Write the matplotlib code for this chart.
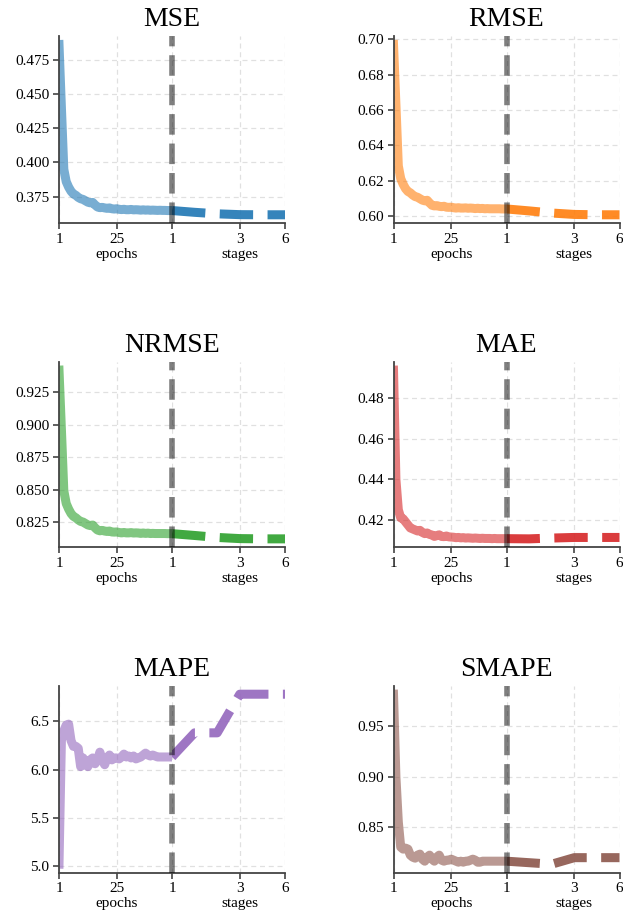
import matplotlib
matplotlib.use('Agg')
import matplotlib.pyplot as plt
from matplotlib.ticker import MultipleLocator, FormatStrFormatter

plt.rcParams['font.family'] = ['Liberation Serif', 'DejaVu Serif']

# ---------------- data ----------------
metrics = ['MSE', 'RMSE', 'NRMSE', 'MAE', 'MAPE', 'SMAPE']
colors = ['#1f77b4', '#ff7f0e', '#2ca02c', '#d62728', '#9467bd', '#8c564b']

epochs = list(range(1, 49))
stages = [1, 2, 3, 4, 5, 6]
epoch_ticks = [1, 25]
epoch_ticklabels = ['1', '25\nepochs']
stage_ticklabels = ['1', '3\nstages', '6']

mse_epochs = [0.486, 0.440, 0.395, 0.386, 0.382, 0.379, 0.377, 0.376, 0.3745, 0.3735,
              0.373, 0.372, 0.371, 0.3705, 0.3708, 0.369, 0.3675, 0.367, 0.3672, 0.3668,
              0.3665, 0.3668, 0.3662, 0.3660, 0.3662, 0.3658, 0.3656, 0.3658, 0.3655, 0.3655,
              0.3657, 0.3654, 0.3655, 0.3654, 0.3652, 0.3654, 0.3652, 0.3653, 0.3651, 0.3652,
              0.3651, 0.3650, 0.3651, 0.3650, 0.3650, 0.3649, 0.3649, 0.3649]
mse_stages = [0.3649, 0.3636, 0.3625, 0.3619, 0.3618, 0.3618]

rmse_epochs = [0.6971, 0.6633, 0.6285, 0.6213, 0.6181, 0.6156, 0.6140, 0.6132, 0.6120, 0.6111,
               0.6107, 0.6099, 0.6091, 0.6087, 0.6090, 0.6075, 0.6062, 0.6058, 0.6060, 0.6056,
               0.6054, 0.6056, 0.6051, 0.6050, 0.6051, 0.6048, 0.6046, 0.6048, 0.6046, 0.6046,
               0.6047, 0.6045, 0.6046, 0.6045, 0.6043, 0.6045, 0.6043, 0.6044, 0.6042, 0.6043,
               0.6042, 0.6042, 0.6042, 0.6042, 0.6042, 0.6041, 0.6041, 0.6041]
rmse_stages = [0.6041, 0.6030, 0.6018, 0.6010, 0.6008, 0.6008]

nrmse_epochs = [0.9420, 0.8964, 0.8493, 0.8396, 0.8353, 0.8319, 0.8297, 0.8286, 0.8270, 0.8258,
                0.8253, 0.8242, 0.8231, 0.8226, 0.8230, 0.8209, 0.8192, 0.8186, 0.8189, 0.8184,
                0.8181, 0.8184, 0.8177, 0.8176, 0.8177, 0.8173, 0.8170, 0.8173, 0.8170, 0.8170,
                0.8172, 0.8169, 0.8170, 0.8169, 0.8166, 0.8169, 0.8166, 0.8168, 0.8165, 0.8166,
                0.8165, 0.8165, 0.8165, 0.8165, 0.8165, 0.8164, 0.8164, 0.8164]
nrmse_stages = [0.8164, 0.8150, 0.8135, 0.8126, 0.8124, 0.8124]

mae_epochs = [0.494, 0.440, 0.425, 0.421, 0.4205, 0.419, 0.4175, 0.416, 0.4155, 0.415,
              0.4145, 0.4148, 0.4138, 0.4132, 0.4135, 0.4128, 0.4125, 0.4118, 0.4122, 0.4126,
              0.4118, 0.4117, 0.4120, 0.4116, 0.4115, 0.4114, 0.4112, 0.4113, 0.4111, 0.4112,
              0.4110, 0.4111, 0.4110, 0.4109, 0.4110, 0.4109, 0.4108, 0.4109, 0.4108, 0.4108,
              0.4108, 0.4107, 0.4108, 0.4107, 0.4107, 0.4107, 0.4107, 0.4107]
mae_stages = [0.4107, 0.4106, 0.4110, 0.4113, 0.4113, 0.4113]

mape_epochs = [5.02, 6.30, 6.40, 6.46, 6.47, 6.30, 6.24, 6.24, 6.22, 6.03,
               6.12, 6.06, 6.03, 6.10, 6.12, 6.06, 6.10, 6.18, 6.10, 6.05,
               6.12, 6.15, 6.10, 6.12, 6.12, 6.11, 6.13, 6.16, 6.13, 6.14,
               6.12, 6.14, 6.11, 6.12, 6.13, 6.15, 6.17, 6.15, 6.14, 6.15,
               6.14, 6.13, 6.13, 6.13, 6.13, 6.13, 6.13, 6.13]
mape_stages = [6.13, 6.38, 6.38, 6.78, 6.78, 6.78]

smape_epochs = [0.982, 0.900, 0.855, 0.830, 0.828, 0.829, 0.828, 0.822, 0.820, 0.819,
                0.822, 0.823, 0.818, 0.816, 0.820, 0.822, 0.818, 0.816, 0.820, 0.822,
                0.817, 0.816, 0.817, 0.817, 0.818, 0.817, 0.816, 0.815, 0.816, 0.815,
                0.816, 0.816, 0.817, 0.818, 0.817, 0.815, 0.815, 0.816, 0.816, 0.816,
                0.816, 0.816, 0.816, 0.816, 0.816, 0.816, 0.816, 0.816]
smape_stages = [0.816, 0.8145, 0.813, 0.8195, 0.8195, 0.8195]

epoch_series = [mse_epochs, rmse_epochs, nrmse_epochs, mae_epochs, mape_epochs, smape_epochs]
stage_series = [mse_stages, rmse_stages, nrmse_stages, mae_stages, mape_stages, smape_stages]

ytick_steps = [0.025, 0.02, 0.025, 0.02, 0.5, 0.05]
ytick_formats = ['%.3f', '%.2f', '%.3f', '%.2f', '%.1f', '%.2f']

# ---------------- figure ----------------
W, H = 623, 915
fig = plt.figure(figsize=(W / 100, H / 100), dpi=100)

col_x = [59 / W, 393.5 / W]
panel_w = 226 / W
row_tops = [36, 361.7, 685.7]
row_h = [187.3, 185.6, 187.0]

spine_col = '#444444'
grid_kw = dict(color='#e0e0e0', linestyle=(0, (4, 3)), linewidth=0.9)

stage_pos = list(range(len(stages)))
stage_tick_pos = [stage_pos[0], stage_pos[3], stage_pos[5]]

for i, name in enumerate(metrics):
    r, c = divmod(i, 2)
    y0 = 1 - (row_tops[r] + row_h[r]) / H
    h = row_h[r] / H
    axl = fig.add_axes([col_x[c], y0, panel_w / 2, h])
    axr = fig.add_axes([col_x[c] + panel_w / 2, y0, panel_w / 2, h], sharey=axl)

    axl.plot(epochs, epoch_series[i], color=colors[i], alpha=0.6, lw=6.5,
             solid_joinstyle='round', zorder=2)
    axr.plot(stage_pos, stage_series[i], color=colors[i], alpha=0.9, lw=6.5,
             linestyle=(0, (3.7, 1.6)), dash_capstyle='butt', zorder=2)
    axr.axvline(stage_pos[0], color='black', alpha=0.5, lw=4, linestyle='--',
                clip_on=False, zorder=4)

    axl.set_xlim(epochs[0], epochs[-1])
    axr.set_xlim(stage_pos[0], stage_pos[-1])
    axl.set_xticks(epoch_ticks)
    axl.set_xticklabels(epoch_ticklabels)
    axr.set_xticks(stage_tick_pos)
    axr.set_xticklabels(stage_ticklabels)

    axl.yaxis.set_major_locator(MultipleLocator(ytick_steps[i]))
    axl.yaxis.set_major_formatter(FormatStrFormatter(ytick_formats[i]))

    for ax in (axl, axr):
        ax.grid(True, **grid_kw)
        ax.set_axisbelow(True)
        for s in ('top', 'right'):
            ax.spines[s].set_visible(False)
        ax.spines['bottom'].set_color(spine_col)
        ax.spines['bottom'].set_linewidth(1.3)
        ax.tick_params(axis='both', labelsize=11, colors='black', length=4,
                       width=1.2, color=spine_col, pad=3)
        ax.set_facecolor('none')
    axl.spines['left'].set_color(spine_col)
    axl.spines['left'].set_linewidth(1.3)
    axr.spines['left'].set_visible(False)
    axr.tick_params(axis='y', left=False, labelleft=False)

    axl.set_title(name, fontsize=20, x=1.0, pad=7)

fig.savefig('out.png', dpi=100)
